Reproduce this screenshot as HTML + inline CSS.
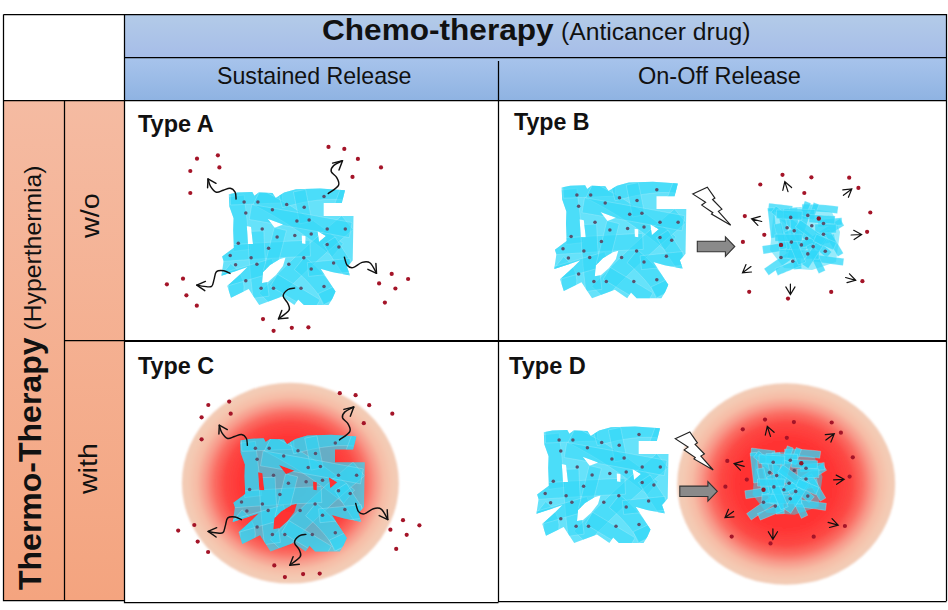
<!DOCTYPE html>
<html><head><meta charset="utf-8">
<style>
html,body{margin:0;padding:0;background:#fff;width:948px;height:610px;overflow:hidden}
svg{display:block}
text{font-family:"Liberation Sans",sans-serif;fill:#111}
</style></head>
<body>
<svg width="948" height="610" viewBox="0 0 948 610">
<defs>
  <linearGradient id="h1" x1="0" y1="0" x2="0" y2="1">
    <stop offset="0" stop-color="#b3cbe8"/><stop offset="1" stop-color="#a6bde8"/>
  </linearGradient>
  <linearGradient id="h2" x1="0" y1="0" x2="0" y2="1">
    <stop offset="0" stop-color="#a8c4ec"/><stop offset="1" stop-color="#8fb3e2"/>
  </linearGradient>
  <linearGradient id="og" x1="0" y1="0" x2="0" y2="1">
    <stop offset="0" stop-color="#f5bba2"/><stop offset="1" stop-color="#f4a47f"/>
  </linearGradient>
  <radialGradient id="rg">
    <stop offset="0" stop-color="#ff2828"/>
    <stop offset="0.45" stop-color="#ff3434"/>
    <stop offset="0.6" stop-color="#fd4844"/>
    <stop offset="0.7" stop-color="#fa6e64"/>
    <stop offset="0.78" stop-color="#f8998a"/>
    <stop offset="0.86" stop-color="#f6bba5"/>
    <stop offset="0.94" stop-color="#f4c9b2"/>
    <stop offset="1" stop-color="#f2cdb8"/>
  </radialGradient>
  <linearGradient id="ag" x1="0" y1="0" x2="0" y2="1">
    <stop offset="0" stop-color="#a0a0a0"/><stop offset="1" stop-color="#707070"/>
  </linearGradient>
  <filter id="soft" x="-5%" y="-5%" width="110%" height="110%"><feGaussianBlur stdDeviation="0.9"/></filter>
</defs>
<!-- backgrounds -->
<rect x="124" y="14" width="822" height="43" fill="url(#h1)"/>
<rect x="124" y="57" width="822" height="43" fill="url(#h2)"/>
<rect x="3" y="100" width="121" height="500" fill="url(#og)"/>

<!-- table lines -->
<g stroke="#000" stroke-width="1.25" fill="none">
  <path d="M3.5 14.5 H946.5 V601"/>
  <path d="M3.5 14.5 V600.5 H124.5"/>
  <path d="M124.5 14.5 V602.5 H498.5"/>
  <path d="M498.5 61 V601.5 H946.5"/>
  <path d="M124.5 57.5 H946.5"/>
  <path d="M3.5 100.5 H946.5"/>
  <path d="M64.5 100.5 V600.5"/>
  <path d="M64.5 340.5 H124.5"/>
</g>
<path d="M124.5 341 H946.5" stroke="#000" stroke-width="2.2"/>


<!-- circles -->
<ellipse cx="290.4" cy="483.2" rx="108.5" ry="100.4" fill="url(#rg)" filter="url(#soft)"/>
<ellipse cx="786.2" cy="484" rx="109" ry="100.8" fill="url(#rg)" filter="url(#soft)"/>
<clipPath id="clipS"><path d="M228.8 194.2 L237.4 192.6 L252.3 192 L254.4 195.8 L258.7 192.6 L272.5 193.1 L275.7 197.9 L284.2 192.6 L296 189.3 L320 188.5 L345 190.3 L341.8 203.1 L323.7 203.1 L323.7 215.9 L353.5 215.9 L352.7 260.6 L347 267 L350 275.6 L332 272 L320.6 268.7 L335.5 291.6 L332.4 298.5 L328.6 305.1 L303.9 305.1 L298.2 299.4 L294.4 305.1 L282 296.6 L259.2 305.1 L248.7 289 L231 297.8 L227.3 286 L240 274.5 L247.5 267 L236 271 L221.4 275.7 L223.6 261 L222.1 256.5 L233.9 247.7 L233.2 230 L233.6 218.2 L229.4 206.4Z M262 283 L263 272 L270 265 L280 259 L285.5 257.5 L283 266 L276 275 L268 282Z M246.8 226 L251 227 L253 244 L248 244Z M267.7 218.7 L283.2 224.5 L274.7 227.7Z M317.5 231 L326 236 L319 242Z M301.8 235.5 L305.5 236 L305.5 244 L302 243.5Z" clip-rule="evenodd"/></clipPath><g id="blob1"><path d="M228.8 194.2 L237.4 192.6 L252.3 192 L254.4 195.8 L258.7 192.6 L272.5 193.1 L275.7 197.9 L284.2 192.6 L296 189.3 L320 188.5 L345 190.3 L341.8 203.1 L323.7 203.1 L323.7 215.9 L353.5 215.9 L352.7 260.6 L347 267 L350 275.6 L332 272 L320.6 268.7 L335.5 291.6 L332.4 298.5 L328.6 305.1 L303.9 305.1 L298.2 299.4 L294.4 305.1 L282 296.6 L259.2 305.1 L248.7 289 L231 297.8 L227.3 286 L240 274.5 L247.5 267 L236 271 L221.4 275.7 L223.6 261 L222.1 256.5 L233.9 247.7 L233.2 230 L233.6 218.2 L229.4 206.4Z M262 283 L263 272 L270 265 L280 259 L285.5 257.5 L283 266 L276 275 L268 282Z M246.8 226 L251 227 L253 244 L248 244Z M267.7 218.7 L283.2 224.5 L274.7 227.7Z M317.5 231 L326 236 L319 242Z M301.8 235.5 L305.5 236 L305.5 244 L302 243.5Z" fill="#30d8f8" fill-opacity="0.74" fill-rule="evenodd"/><g clip-path="url(#clipS)" fill="#30d8f8" fill-opacity="0.5" stroke="#d8f8ff" stroke-opacity="0.35" stroke-width="0.7">
<path d="M227 197 L227.8 203.8 L228.6 210.6 L229.4 217.4 L230.2 224.2 L231 230.9 L231.8 237.7 L232.6 244.5 L233.4 251.3 L250.5 249.3 L249.7 242.5 L248.9 235.7 L248.1 228.9 L247.3 222.1 L246.5 215.4 L245.7 208.6 L244.9 201.8 L244.1 195Z"/>
<path d="M230.5 205 L237.1 204.8 L243.6 204.5 L250.1 204.2 L256.6 204 L263.2 203.7 L269.7 203.4 L276.2 203.2 L282.7 202.9 L282.2 189.1 L275.6 189.3 L269.1 189.6 L262.6 189.9 L256.1 190.1 L249.5 190.4 L243 190.7 L236.5 190.9 L230 191.2Z"/>
<path d="M253 204.7 L263.4 210.1 L273.6 215.8 L283.7 221.8 L293.7 228.2 L303.6 234.9 L313.3 241.9 L322.9 249.2 L332.4 256.9 L343.3 243.7 L333.5 235.7 L323.5 228.1 L313.4 220.8 L303.1 213.8 L292.8 207.2 L282.2 200.9 L271.5 195 L260.7 189.4Z"/>
<path d="M282.4 207.6 L292.1 205 L301.3 202.8 L310.1 201.2 L318.4 200.1 L326.3 199.4 L333.8 199.3 L340.8 199.6 L347.3 200.3 L349.7 185.3 L342 184.4 L333.9 184 L325.5 184.2 L316.8 184.9 L307.7 186.2 L298.2 187.9 L288.4 190.2 L278.2 192.9Z"/>
<path d="M340.5 188.5 L339.7 190.6 L338.9 192.7 L338.1 194.9 L337.3 197 L336.5 199.1 L335.7 201.3 L334.9 203.4 L334.1 205.5 L345.8 209.9 L346.6 207.8 L347.4 205.6 L348.2 203.5 L349 201.4 L349.8 199.2 L350.6 197.1 L351.4 195 L352.2 192.8Z"/>
<path d="M293.4 191.9 L294.2 195.9 L295 199.9 L295.8 203.9 L296.6 207.9 L297.4 211.9 L298.2 215.8 L299 219.8 L299.8 223.8 L312 221.4 L311.2 217.4 L310.4 213.4 L309.6 209.4 L308.8 205.4 L308 201.4 L307.2 197.4 L306.4 193.4 L305.6 189.4Z"/>
<path d="M341.7 215.7 L330.3 225.4 L319.2 235 L308.4 244.7 L297.9 254.4 L287.7 264.1 L277.8 273.8 L268.2 283.5 L258.9 293.1 L271.9 305.5 L281.1 296 L290.5 286.5 L300.2 277 L310.2 267.5 L320.5 258 L331.1 248.5 L342 239 L353.2 229.5Z"/>
<path d="M222.3 261.5 L232.8 260.7 L243.4 260 L254.1 259.3 L265.1 258.6 L276.2 258 L287.5 257.3 L298.9 256.8 L310.5 256.2 L309.8 240.2 L298.1 240.7 L286.6 241.3 L275.3 241.9 L264.1 242.6 L253.1 243.2 L242.3 244 L231.6 244.7 L221.1 245.5Z"/>
<path d="M249.2 219.5 L261.5 221.6 L273.8 223.8 L286.2 226 L298.7 228.2 L311.2 230.5 L323.8 232.8 L336.5 235.2 L349.2 237.6 L352 222.6 L339.3 220.2 L326.6 217.9 L313.9 215.5 L301.4 213.3 L288.9 211 L276.5 208.8 L264.1 206.6 L251.8 204.5Z"/>
<path d="M294.3 269.6 L299.2 273.7 L303.7 277.8 L307.9 282.1 L311.8 286.4 L315.4 290.7 L318.6 295.2 L321.5 299.7 L324.1 304.3 L338.8 296.5 L335.7 291.1 L332.3 285.8 L328.6 280.6 L324.4 275.5 L320 270.6 L315.2 265.8 L310.1 261.2 L304.7 256.6Z"/>
<path d="M247.8 231.4 L248.1 240 L248.5 248.5 L249 257 L249.7 265.3 L250.4 273.7 L251.2 281.9 L252.1 290.1 L253.2 298.3 L269.1 296.1 L268.1 288.2 L267.2 280.2 L266.4 272.2 L265.7 264.1 L265.1 255.9 L264.6 247.6 L264.2 239.3 L263.8 230.9Z"/>
<path d="M323.5 244.5 L326.2 248.6 L328.8 252.7 L331.5 256.9 L334.2 261 L336.8 265.1 L339.5 269.3 L342.2 273.4 L344.8 277.5 L356.5 270 L353.8 265.9 L351.1 261.7 L348.5 257.6 L345.8 253.5 L343.1 249.4 L340.5 245.2 L337.8 241.1 L335.1 237Z"/>
<path d="M221.2 275.4 L224.1 278.1 L226.2 280.6 L227.6 282.9 L228.4 285.2 L228.8 287.5 L228.6 289.9 L228 292.7 L226.6 295.9 L240.3 302.7 L242.4 297.5 L243.7 292.2 L244 286.8 L243.2 281.5 L241.4 276.4 L238.6 271.7 L235.1 267.5 L230.7 263.5Z"/>
<path d="M308.7 276.4 L314 275.9 L319.4 275.3 L324.7 274.8 L330 274.3 L335.3 273.7 L340.7 273.2 L346 272.7 L351.3 272.1 L349.9 258.3 L344.6 258.9 L339.3 259.4 L334 259.9 L328.6 260.5 L323.3 261 L318 261.5 L312.7 262.1 L307.3 262.6Z"/>
<path d="M270.4 286.1 L275.7 289.3 L281 292.5 L286.3 295.7 L291.7 298.9 L297 302.1 L302.3 305.3 L307.7 308.5 L313 311.7 L320.1 299.8 L314.8 296.6 L309.5 293.4 L304.1 290.2 L298.8 287 L293.5 283.8 L288.1 280.6 L282.8 277.4 L277.5 274.2Z"/>
<path d="M224.7 286.8 L231.1 284.9 L237.5 283.1 L243.9 281.2 L250.3 279.3 L256.7 277.5 L263.1 275.6 L269.5 273.7 L275.9 271.9 L272 258.6 L265.6 260.4 L259.2 262.3 L252.8 264.2 L246.4 266 L240 267.9 L233.6 269.8 L227.2 271.6 L220.8 273.5Z"/>
<path d="M274.3 227.5 L272.9 232.8 L271.6 238.2 L270.3 243.5 L268.9 248.8 L267.6 254.1 L266.3 259.5 L264.9 264.8 L263.6 270.1 L275.7 273.1 L277 267.8 L278.4 262.5 L279.7 257.2 L281 251.8 L282.4 246.5 L283.7 241.2 L285 235.8 L286.4 230.5Z"/>
<path d="M323.4 305 L326.9 303.4 L330.3 301.8 L333.8 300.2 L337.3 298.6 L340.7 297 L344.2 295.4 L347.7 293.8 L351.1 292.2 L345.9 280.9 L342.4 282.5 L339 284.1 L335.5 285.7 L332 287.3 L328.6 288.9 L325.1 290.5 L321.7 292.1 L318.2 293.7Z"/>
</g><g fill="#58526e">
<circle cx="244.1" cy="201.9" r="1.75"/>
<circle cx="257.9" cy="201.9" r="1.75"/>
<circle cx="286.7" cy="204.5" r="1.75"/>
<circle cx="304.2" cy="207.3" r="1.75"/>
<circle cx="324" cy="196.6" r="1.75"/>
<circle cx="245.8" cy="213" r="1.75"/>
<circle cx="272.4" cy="209.8" r="1.75"/>
<circle cx="296.9" cy="221.1" r="1.75"/>
<circle cx="309.1" cy="220.1" r="1.75"/>
<circle cx="262.2" cy="229" r="1.75"/>
<circle cx="277.1" cy="236.9" r="1.75"/>
<circle cx="294.8" cy="235.4" r="1.75"/>
<circle cx="311.2" cy="233.9" r="1.75"/>
<circle cx="327.2" cy="229" r="1.75"/>
<circle cx="345.3" cy="229" r="1.75"/>
<circle cx="238.3" cy="243.3" r="1.75"/>
<circle cx="268.6" cy="248.2" r="1.75"/>
<circle cx="327.2" cy="244.4" r="1.75"/>
<circle cx="338.9" cy="247.1" r="1.75"/>
<circle cx="230.2" cy="255.6" r="1.75"/>
<circle cx="251.1" cy="257.8" r="1.75"/>
<circle cx="303.8" cy="257.8" r="1.75"/>
<circle cx="235.6" cy="264.8" r="1.75"/>
<circle cx="256.9" cy="264.2" r="1.75"/>
<circle cx="288.8" cy="264.2" r="1.75"/>
<circle cx="333.6" cy="263.1" r="1.75"/>
<circle cx="311.2" cy="268.9" r="1.75"/>
<circle cx="245.8" cy="280.8" r="1.75"/>
<circle cx="261.1" cy="288.2" r="1.75"/>
<circle cx="273.5" cy="288.2" r="1.75"/>
<circle cx="301" cy="288.2" r="1.75"/>
<circle cx="324" cy="286.5" r="1.75"/>
</g></g>
<use href="#blob1" transform="translate(332.8,-6.8)"/>
<use href="#blob1" transform="translate(11.3,246.3)"/>
<use href="#blob1" transform="translate(315,238)"/>
<g id="extA"><g fill="#a41428"><circle cx="197" cy="158.7" r="2.1"/>
<circle cx="217.9" cy="155.3" r="2.1"/>
<circle cx="219.4" cy="167.4" r="2.1"/>
<circle cx="190.3" cy="171" r="2.1"/>
<circle cx="190.3" cy="193" r="2.1"/>
<circle cx="328.5" cy="146.9" r="2.1"/>
<circle cx="344.3" cy="148.9" r="2.1"/>
<circle cx="357.9" cy="158.9" r="2.1"/>
<circle cx="381" cy="167.4" r="2.1"/>
<circle cx="352.5" cy="176.9" r="2.1"/>
<circle cx="166.9" cy="284.3" r="2.1"/>
<circle cx="183" cy="278.7" r="2.1"/>
<circle cx="186.4" cy="295.3" r="2.1"/>
<circle cx="196.8" cy="305.7" r="2.1"/>
<circle cx="263" cy="319.1" r="2.1"/>
<circle cx="273.6" cy="330.8" r="2.1"/>
<circle cx="291.8" cy="327.8" r="2.1"/>
<circle cx="308.4" cy="327.3" r="2.1"/>
<circle cx="391.7" cy="273.9" r="2.1"/>
<circle cx="408.1" cy="279" r="2.1"/>
<circle cx="379.1" cy="283.4" r="2.1"/>
<circle cx="395.4" cy="288.5" r="2.1"/>
<circle cx="384.9" cy="302.6" r="2.1"/></g><g fill="none" stroke="#111" stroke-width="1.45" stroke-linecap="round" stroke-linejoin="round"><path d="M236.1 199 C235.9 197.9 236.1 194 235.1 192.2 C234.1 190.4 232.2 188.5 230.2 188.2 C228.2 187.9 225.6 189.5 223.3 190.2 C221 190.9 218.5 192.8 216.4 192.2 C214.3 191.5 211.9 188.5 210.5 186.3 C209.1 184.1 208.4 180.1 208 178.9"/>
<path d="M207.6 187.7 L208 178.9 L216 183.3"/>
<path d="M328.2 193.6 C329.9 192.2 337.1 188 338.5 185.3 C339.9 182.6 337.8 179.7 336.6 177.4 C335.4 175.1 331.7 173.5 331.2 171.5 C330.7 169.5 331.7 167.4 333.6 165.6 C335.5 163.8 341 161.5 342.5 160.7"/>
<path d="M332.6 163.1 L342.5 160.7 L339 170"/>
<path d="M230 273.4 C229 272.9 226.2 271 223.9 270.7 C221.7 270.4 218.2 270.1 216.5 271.6 C214.8 273.1 214.8 277.1 214 279.6 C213.2 282.1 213.2 285.3 211.6 286.4 C210 287.5 206.7 286.6 204.2 286.4 C201.7 286.2 198 285.3 196.8 285.1"/>
<path d="M205.4 281.4 L196.8 285.1 L204.8 290.7"/>
<path d="M294.6 288.1 C293.5 288.3 289.9 288.2 288 289.5 C286.1 290.8 283.2 293.7 283.2 296.1 C283.2 298.5 287.1 301.3 288 303.7 C288.9 306.1 290.5 307.9 288.9 310.4 C287.3 312.9 280.2 317.5 278.5 318.9"/>
<path d="M281.8 310.4 L278.5 318.9 L288 318"/>
<path d="M344.4 257.2 C344.9 258.6 345.8 263.6 347.2 265.3 C348.6 267 350.5 268.1 353 267.6 C355.5 267.1 359.2 263.2 362.1 262.4 C365 261.6 367.8 261.2 370.2 263 C372.6 264.8 375.4 271.6 376.5 273.3"/>
<path d="M375.9 263.5 L376.5 273.3 L367.9 269.3"/></g></g>
<use href="#extA" transform="translate(11.3,246.3)"/>
<g id="extB"><polygon points="692.7,193.9 707.3,187.2 714.9,198.1 712.6,199.5 721.9,209.2 718.4,211.3 730.7,225.2 711.5,214.1 712.8,212.7 701.7,205.1 705.6,202.3" fill="#fff" stroke="#222" stroke-width="1.15"/><polygon points="697.3,241.3 725.4,241.3 725.4,236.8 734.8,246.5 725.4,256.3 725.4,251.7 697.3,251.7" fill="#8a8a8a" stroke="#333" stroke-width="1.1"/><path d="M774 210 L800 207 L832 212 L840 232 L836 262 L812 270 L784 268 L770 250 L772 228Z" fill="#30d8f8" fill-opacity="0.5"/><g fill="#30d8f8" fill-opacity="0.76" stroke="#d8f8ff" stroke-opacity="0.4" stroke-width="0.6"><path d="M768.1 211.1 L771 211.4 L774 211.8 L776.9 212.2 L779.8 212.5 L782.8 212.9 L785.7 213.2 L788.7 213.6 L791.6 213.9 L792.6 206 L789.6 205.7 L786.7 205.3 L783.7 204.9 L780.8 204.6 L777.9 204.2 L774.9 203.9 L772 203.5 L769 203.2Z"/>
<path d="M767.5 208.2 L768 212 L768.4 215.7 L768.9 219.5 L769.3 223.2 L769.7 226.9 L770.2 230.7 L770.6 234.4 L771.1 238.2 L777.4 237.4 L777 233.7 L776.5 229.9 L776.1 226.2 L775.6 222.4 L775.2 218.7 L774.8 215 L774.3 211.2 L773.9 207.5Z"/>
<path d="M771 212.4 L778.2 218.1 L785.2 223.8 L792.2 229.5 L799.2 235.2 L806.1 240.9 L813 246.6 L819.8 252.3 L826.6 258 L831.8 251.9 L824.9 246.1 L818.1 240.4 L811.2 234.7 L804.3 229 L797.3 223.3 L790.2 217.6 L783.2 211.9 L776 206.1Z"/>
<path d="M802.1 211.4 L807 211.5 L811.7 211.6 L816.3 211.7 L820.8 212 L825.1 212.3 L829.3 212.6 L833.3 213 L837.3 213.5 L838.2 206.4 L834.2 205.9 L830 205.5 L825.6 205.1 L821.2 204.8 L816.6 204.5 L811.9 204.4 L807.1 204.3 L802.1 204.2Z"/>
<path d="M789.5 208 L789.9 215.6 L790.3 223.1 L790.8 230.8 L791.3 238.4 L791.9 246.1 L792.5 253.9 L793.1 261.7 L793.8 269.5 L801.8 268.8 L801.1 261 L800.4 253.3 L799.8 245.5 L799.3 237.9 L798.8 230.3 L798.3 222.7 L797.9 215.1 L797.5 207.6Z"/>
<path d="M839.9 218.7 L830.6 224.5 L821.2 230.4 L811.8 236.5 L802.4 242.7 L792.9 249 L783.3 255.4 L773.7 262 L764.1 268.8 L768.7 275.3 L778.3 268.6 L787.8 262 L797.3 255.6 L806.8 249.3 L816.2 243.2 L825.5 237.2 L834.8 231.3 L844.1 225.5Z"/>
<path d="M763.4 253.9 L772.2 252.6 L781.1 251.2 L790 249.8 L799 248.3 L808.1 246.8 L817.2 245.2 L826.4 243.5 L835.6 241.7 L834.1 233.9 L824.9 235.6 L815.8 237.3 L806.7 238.9 L797.7 240.5 L788.7 241.9 L779.8 243.3 L771 244.7 L762.3 246Z"/>
<path d="M777.8 275.4 L780.8 274.1 L783.8 272.9 L786.9 271.6 L789.9 270.4 L792.9 269.1 L796 267.9 L799 266.6 L802 265.4 L799.3 258.7 L796.2 260 L793.2 261.2 L790.2 262.5 L787.2 263.7 L784.1 265 L781.1 266.2 L778.1 267.5 L775 268.7Z"/>
<path d="M811.6 261.3 L815.5 261.9 L819.4 262.4 L823.3 262.9 L827.3 263.5 L831.2 264 L835.1 264.5 L839 265.1 L843 265.6 L843.9 258.5 L840 258 L836.1 257.4 L832.2 256.9 L828.2 256.3 L824.3 255.8 L820.4 255.3 L816.5 254.7 L812.5 254.2Z"/>
<path d="M818.1 227.1 L821.1 226.8 L824.1 226.6 L827.2 226.3 L830.2 226 L833.2 225.8 L836.3 225.5 L839.3 225.2 L842.3 225 L841.7 217.8 L838.7 218.1 L835.6 218.3 L832.6 218.6 L829.6 218.9 L826.5 219.1 L823.5 219.4 L820.5 219.7 L817.5 219.9Z"/>
<path d="M804.8 201 L804.1 203 L803.4 205 L802.6 206.9 L801.9 208.9 L801.2 210.8 L800.5 212.8 L799.8 214.8 L799.1 216.7 L805.1 218.9 L805.8 217 L806.5 215 L807.2 213 L807.9 211.1 L808.6 209.1 L809.4 207.1 L810.1 205.2 L810.8 203.2Z"/>
<path d="M813.7 202.6 L813 204.6 L812.3 206.5 L811.6 208.5 L810.9 210.4 L810.1 212.4 L809.4 214.4 L808.7 216.3 L808 218.3 L813.3 220.2 L814 218.2 L814.7 216.3 L815.4 214.3 L816.1 212.4 L816.8 210.4 L817.5 208.4 L818.3 206.5 L819 204.5Z"/>
<path d="M806 246.5 L807.6 249.9 L809.2 253.2 L810.8 256.6 L812.4 260 L814 263.4 L815.6 266.8 L817.2 270.2 L818.8 273.6 L825.3 270.5 L823.7 267.1 L822.1 263.7 L820.5 260.3 L818.9 256.9 L817.3 253.6 L815.7 250.2 L814.1 246.8 L812.5 243.4Z"/>
<path d="M779 218.5 L779.9 222.8 L780.8 227 L781.7 231.3 L782.5 235.6 L783.4 239.9 L784.3 244.2 L785.2 248.4 L786.1 252.7 L792.4 251.4 L791.5 247.1 L790.6 242.9 L789.7 238.6 L788.8 234.3 L787.9 230 L787 225.7 L786.1 221.5 L785.2 217.2Z"/>
<path d="M823.6 232.3 L825.4 235.3 L827.1 238.3 L828.9 241.4 L830.7 244.4 L832.5 247.4 L834.3 250.5 L836.1 253.5 L837.8 256.5 L843.3 253.3 L841.6 250.3 L839.8 247.2 L838 244.2 L836.2 241.2 L834.4 238.1 L832.6 235.1 L830.9 232.1 L829.1 229Z"/>
<path d="M783.4 218.3 L787.3 218.4 L791.3 218.5 L795.2 218.6 L799.1 218.7 L803 218.8 L807 218.9 L810.9 219 L814.8 219.1 L815 209.5 L811.1 209.4 L807.2 209.3 L803.3 209.2 L799.3 209.1 L795.4 209 L791.5 208.9 L787.6 208.8 L783.6 208.8Z"/>
<path d="M800.8 215 L799 220.4 L797.2 225.7 L795.4 231.1 L793.6 236.4 L791.8 241.8 L790.1 247.1 L788.3 252.5 L786.5 257.8 L794.8 260.6 L796.6 255.2 L798.4 249.9 L800.2 244.5 L802 239.2 L803.7 233.8 L805.5 228.5 L807.3 223.1 L809.1 217.8Z"/>
<path d="M814.9 232.9 L817.6 232.9 L820.3 232.9 L822.9 232.9 L825.6 232.9 L828.3 232.9 L831 232.9 L833.6 232.9 L836.3 232.9 L836.3 224.1 L833.6 224.1 L831 224.1 L828.3 224.1 L825.6 224.1 L822.9 224.1 L820.3 224.1 L817.6 224.1 L814.9 224.1Z"/>
<path d="M779.1 257.9 L784.1 258.1 L789.1 258.2 L794.1 258.4 L799.1 258.6 L804.1 258.8 L809.1 258.9 L814 259.1 L819 259.3 L819.4 250.5 L814.4 250.3 L809.4 250.2 L804.4 250 L799.4 249.8 L794.4 249.6 L789.4 249.5 L784.4 249.3 L779.4 249.1Z"/>
<path d="M820.1 235.6 L817.8 239.2 L815.5 242.8 L813.2 246.3 L810.9 249.9 L808.5 253.5 L806.2 257 L803.9 260.6 L801.6 264.1 L808.3 268.5 L810.6 264.9 L812.9 261.4 L815.2 257.8 L817.6 254.2 L819.9 250.7 L822.2 247.1 L824.5 243.5 L826.8 240Z"/>
<path d="M795.2 227.1 L798.4 229.4 L801.6 231.7 L804.9 234 L808.1 236.4 L811.3 238.7 L814.5 241 L817.7 243.3 L820.9 245.6 L826 238.5 L822.8 236.2 L819.6 233.9 L816.4 231.6 L813.2 229.2 L810 226.9 L806.8 224.6 L803.6 222.3 L800.4 220Z"/>
<path d="M774.3 224.3 L775 227.5 L775.7 230.7 L776.5 233.9 L777.2 237.1 L777.9 240.4 L778.6 243.6 L779.3 246.8 L780 250 L787 248.4 L786.3 245.2 L785.6 242 L784.9 238.8 L784.2 235.6 L783.5 232.4 L782.8 229.2 L782 226 L781.3 222.8Z"/>
<path d="M776.2 218.6 L779.4 218.8 L782.6 219 L785.8 219.2 L789 219.4 L792.2 219.5 L795.4 219.7 L798.6 219.9 L801.8 220.1 L802.3 211.3 L799.1 211.1 L795.9 210.9 L792.7 210.8 L789.5 210.6 L786.3 210.4 L783.1 210.2 L779.9 210 L776.6 209.9Z"/>
<path d="M809 222.5 L812.2 222.7 L815.4 222.9 L818.6 223.1 L821.8 223.2 L825 223.4 L828.2 223.6 L831.5 223.8 L834.7 224 L835.1 216 L831.9 215.8 L828.7 215.6 L825.5 215.4 L822.3 215.3 L819.1 215.1 L815.8 214.9 L812.6 214.7 L809.4 214.5Z"/>
<path d="M784.1 232.3 L785.9 236.4 L787.7 240.5 L789.5 244.6 L791.3 248.7 L793.1 252.8 L794.8 256.9 L796.6 261 L798.4 265.1 L805.7 261.9 L804 257.8 L802.2 253.7 L800.4 249.6 L798.6 245.5 L796.8 241.4 L795 237.3 L793.3 233.2 L791.5 229.1Z"/>
<path d="M813.3 241.5 L815.8 242.5 L818.3 243.6 L820.8 244.7 L823.3 245.7 L825.8 246.8 L828.3 247.9 L830.8 249 L833.3 250 L836.5 242.7 L834 241.6 L831.5 240.5 L829 239.5 L826.5 238.4 L824 237.3 L821.5 236.3 L819 235.2 L816.5 234.1Z"/>
<path d="M775 241.4 L778.4 241.4 L781.7 241.4 L785.1 241.4 L788.5 241.4 L791.9 241.4 L795.3 241.4 L798.7 241.4 L802.1 241.4 L802.1 234.2 L798.7 234.2 L795.3 234.2 L791.9 234.2 L788.5 234.2 L785.1 234.2 L781.7 234.2 L778.4 234.2 L775 234.2Z"/></g><g fill="#58526e"><circle cx="790.7" cy="217.4" r="1.8"/><circle cx="807.8" cy="215.4" r="1.8"/><circle cx="823.5" cy="223.5" r="1.8"/><circle cx="787.1" cy="227.8" r="1.8"/><circle cx="794.2" cy="230.7" r="1.8"/><circle cx="811.8" cy="225.7" r="1.8"/><circle cx="823.5" cy="234.2" r="1.8"/><circle cx="791.4" cy="242.1" r="1.8"/><circle cx="801.4" cy="244.9" r="1.8"/><circle cx="806.6" cy="238.5" r="1.8"/><circle cx="813.2" cy="246.6" r="1.8"/><circle cx="825.3" cy="251.3" r="1.8"/><circle cx="807.8" cy="253.9" r="1.8"/><circle cx="781" cy="257.5" r="1.8"/><circle cx="792.8" cy="261.3" r="1.8"/></g><g fill="#a41428"><circle cx="782.5" cy="174.8" r="2.1"/>
<circle cx="811.4" cy="177.3" r="2.1"/>
<circle cx="849.2" cy="177.7" r="2.1"/>
<circle cx="760.3" cy="184.5" r="2.1"/>
<circle cx="858.4" cy="187.9" r="2.1"/>
<circle cx="804.3" cy="193" r="2.1"/>
<circle cx="870.3" cy="212.5" r="2.1"/>
<circle cx="744.8" cy="216.1" r="2.1"/>
<circle cx="867.1" cy="231.8" r="2.1"/>
<circle cx="764.3" cy="234.8" r="2.1"/>
<circle cx="742.9" cy="241.9" r="2.1"/>
<circle cx="862.4" cy="281.2" r="2.1"/>
<circle cx="749.2" cy="291.8" r="2.1"/>
<circle cx="831.2" cy="291.9" r="2.1"/>
<circle cx="788" cy="298.6" r="2.1"/><circle cx="818.8" cy="218.5" r="2.2" fill="#8a1c2c"/><circle cx="781" cy="244.9" r="2.2" fill="#8a1c2c"/></g><g fill="none" stroke="#111" stroke-width="1.2" stroke-linecap="round"><path d="M788 191.6 L784.8 181.6 M782.8 190.4 L784.8 181.6 L791.6 187.5"/>
<path d="M843.4 195.3 L851.8 189 M842.8 189.9 L851.8 189 L848.4 197.3"/>
<path d="M761.7 221.5 L751.6 218.8 M757.9 225.3 L751.6 218.8 L760.3 216.3"/>
<path d="M851.1 235 L861.6 234.5 M853.7 230.3 L861.6 234.5 L854.1 239.5"/>
<path d="M751 266.6 L742.5 272.8 M751.5 272 L742.5 272.8 L746 264.5"/>
<path d="M845.6 277.5 L855.7 280.3 M849.5 273.8 L855.7 280.3 L847 282.7"/>
<path d="M790.4 284.1 L790.4 294.6 M795 286.9 L790.4 294.6 L785.8 286.9"/></g></g>
<use href="#extB" transform="translate(-17.5,244.8)"/>

<!-- header text -->
<text x="322" y="39.5" font-size="29.4" font-weight="bold" textLength="231.6" lengthAdjust="spacingAndGlyphs">Chemo-therapy</text>
<text x="561" y="40.4" font-size="23" textLength="189.4" lengthAdjust="spacingAndGlyphs">(Anticancer drug)</text>
<text x="217" y="83.6" font-size="24" textLength="194.5" lengthAdjust="spacingAndGlyphs">Sustained Release</text>
<text x="638" y="83.5" font-size="23.5">On-Off Release</text>

<text x="138" y="132" font-size="24" font-weight="bold" textLength="75.7" lengthAdjust="spacingAndGlyphs">Type A</text>
<text x="514" y="129.7" font-size="24" font-weight="bold" textLength="75.6" lengthAdjust="spacingAndGlyphs">Type B</text>
<text x="138" y="373.5" font-size="24" font-weight="bold" textLength="76.2" lengthAdjust="spacingAndGlyphs">Type C</text>
<text x="509" y="373.5" font-size="24" font-weight="bold" textLength="76.8" lengthAdjust="spacingAndGlyphs">Type D</text>

<text transform="translate(40.7,590) rotate(-90)" font-size="32" font-weight="bold">Thermo-Therapy</text>
<text transform="translate(40.8,330.5) rotate(-90)" font-size="23.8" textLength="165" lengthAdjust="spacingAndGlyphs">(Hyperthermia)</text>
<text transform="translate(98.7,238) rotate(-90)" font-size="25" textLength="44.9" lengthAdjust="spacingAndGlyphs">w/o</text>
<text transform="translate(97.2,494) rotate(-90)" font-size="25" textLength="50.8" lengthAdjust="spacingAndGlyphs">with</text>

</svg>
</body></html>
